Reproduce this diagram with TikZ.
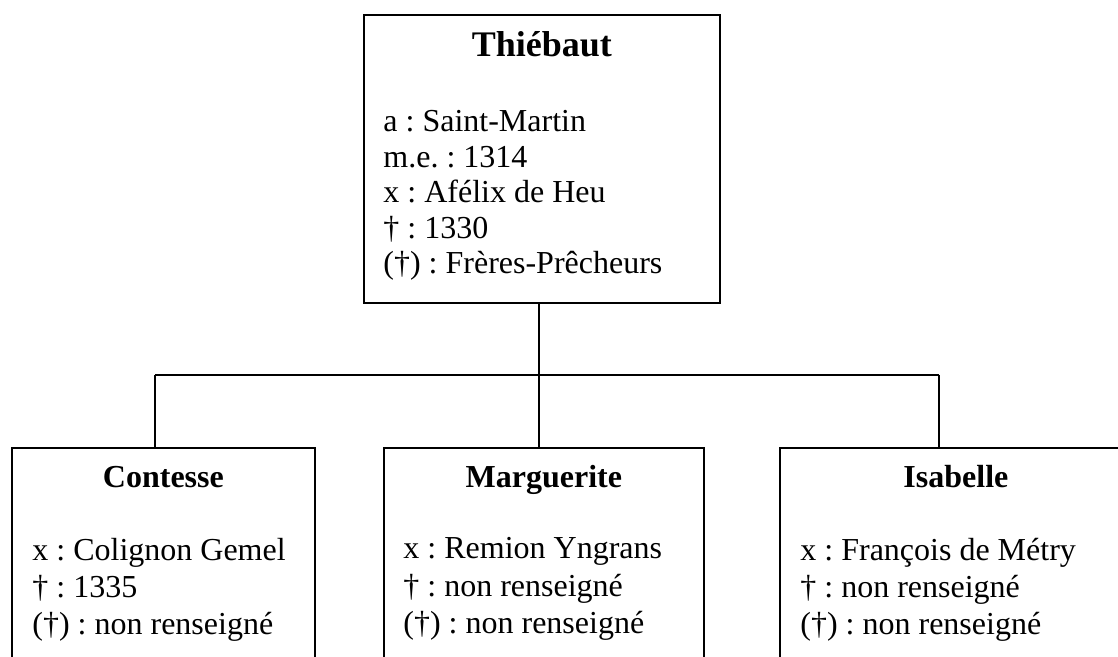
\documentclass[tikz,border=0pt]{standalone}
\usepackage{fontspec}
\setmainfont{Liberation Serif}
\frenchspacing
\begin{document}
\begin{tikzpicture}[x=0.5pt,y=-0.5pt,
  fiche/.style={draw, line width=0.9pt, anchor=north west, inner sep=0pt, minimum width=#1, minimum height=144pt},
  nom/.style={font=\fontsize{16}{18}\selectfont\bfseries, anchor=base, inner sep=0pt},
  detail/.style={font=\fontsize{16}{#1}\selectfont, anchor=north west, align=left, inner sep=0pt},
  lien/.style={line width=0.6pt}]
	\useasboundingbox (0,0) rectangle (1118,657);
	\clip (0,0) rectangle (1118,657);
	
	% pere
	\node[fiche=178pt] (thiebaut) at (363,14) {};
	\node[nom, font=\fontsize{18}{20}\selectfont\bfseries] (nom-thiebaut) at ([yshift=-21.5pt]thiebaut.north) {Thiébaut};
	\node[detail=17.8pt] (det-thiebaut) at ([xshift=10pt,yshift=-48pt]thiebaut.north west)
		{a : Saint-Martin\\ m.e. : 1314\\ x : Afélix de Heu\\ † : 1330\\ (†) : Frères-Prêcheurs};
	
	% filles
	\node[fiche=151.5pt] (contesse) at (11,447) {};
	\node[nom] (nom-contesse) at ([yshift=-20pt]contesse.north) {Contesse};
	\node[detail=18.6pt] (det-contesse) at ([xshift=10.5pt,yshift=-45.2pt]contesse.north west)
		{x : Colignon Gemel\\ † : 1335\\ (†) : non renseigné};
	
	\node[fiche=160pt] (marguerite) at (383,447) {};
	\node[nom] (nom-marguerite) at ([yshift=-20pt]marguerite.north) {Marguerite};
	\node[detail=18.6pt] (det-marguerite) at ([xshift=10pt,yshift=-45.2pt]marguerite.north west)
		{x : Remion Yngrans\\ † : non renseigné\\ (†) : non renseigné};
	
	\node[fiche=176pt] (isabelle) at (779,447) {};
	\node[nom] (nom-isabelle) at ([yshift=-20pt]isabelle.north) {Isabelle};
	\node[detail=18.6pt] (det-isabelle) at ([xshift=10.5pt,yshift=-45.2pt]isabelle.north west)
		{x : François de Métry\\ † : non renseigné\\ (†) : non renseigné};
	
	% liens
	\coordinate (gauche) at (155,375);
	\coordinate (milieu) at (539,375);
	\coordinate (droite) at (939,375);
	\draw[lien] (milieu |- thiebaut.south) -- (milieu);
	\draw[lien] (gauche) -- (droite);
	\draw[lien] (gauche) -- (gauche |- contesse.north);
	\draw[lien] (milieu) -- (milieu |- marguerite.north);
	\draw[lien] (droite) -- (droite |- isabelle.north);
\end{tikzpicture}
\end{document}
